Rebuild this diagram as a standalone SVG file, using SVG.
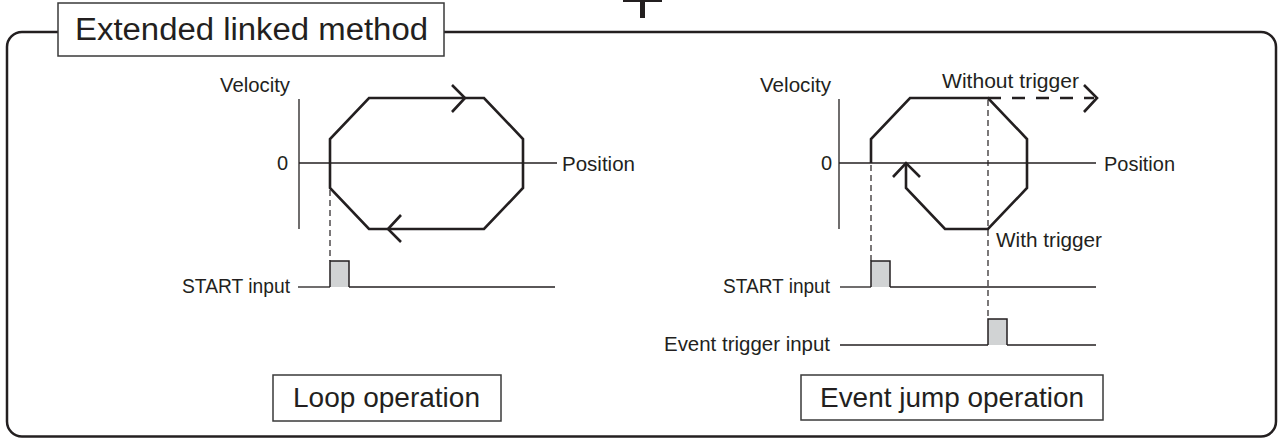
<svg xmlns="http://www.w3.org/2000/svg" width="1279" height="439" viewBox="0 0 1279 439">
<style>
  text { font-family: "Liberation Sans", Arial, sans-serif; fill: #231f20; }
  .lbl { font-size: 20px; }
  .big { font-size: 28px; }
  .ttl { font-size: 31px; }
  .box { fill: #ffffff; stroke: #3a3a3a; stroke-width: 1.5; }
  .axis { fill: none; stroke: #231f20; stroke-width: 1.3; }
  .prof { fill: none; stroke: #231f20; stroke-width: 2.6; stroke-linejoin: miter; stroke-linecap: butt; }
  .dash { fill: none; stroke: #231f20; stroke-width: 1.2; stroke-dasharray: 6 4; }
  .dashb { fill: none; stroke: #231f20; stroke-width: 2.6; stroke-dasharray: 13 11; }
  .pulse { fill: #d1d3d4; stroke: #231f20; stroke-width: 1.5; }
</style>

<g id="plus-mark">
  <rect x="623" y="0" width="39" height="2" fill="#231f20"/>
  <rect x="640" y="0" width="5" height="18" fill="#231f20"/>
</g>

<g id="frame">
  <rect x="7" y="32" width="1269" height="404.5" rx="15" ry="15" fill="none" stroke="#231f20" stroke-width="2.5"/>
</g>

<g id="title">
  <rect class="box" x="58" y="3" width="386" height="53"/>
  <text class="ttl" x="75" y="40" textLength="353" lengthAdjust="spacingAndGlyphs">Extended linked method</text>
</g>

<g id="loop-chart">
  <text class="lbl" x="220" y="92" textLength="70" lengthAdjust="spacingAndGlyphs">Velocity</text>
  <text class="lbl" x="277" y="170">0</text>
  <text class="lbl" x="562" y="171" textLength="73" lengthAdjust="spacingAndGlyphs">Position</text>
  <text class="lbl" x="182" y="293" textLength="108" lengthAdjust="spacingAndGlyphs">START input</text>
</g>

<g id="loop-label">
  <rect class="box" x="273" y="375" width="228" height="46"/>
  <text class="big" x="293" y="407" textLength="187" lengthAdjust="spacingAndGlyphs">Loop operation</text>
</g>

<g id="jump-chart">
  <text class="lbl" x="760" y="92" textLength="71" lengthAdjust="spacingAndGlyphs">Velocity</text>
  <text class="lbl" x="942" y="88" textLength="137" lengthAdjust="spacingAndGlyphs">Without trigger</text>
  <text class="lbl" x="821" y="170">0</text>
  <text class="lbl" x="1104" y="171" textLength="71" lengthAdjust="spacingAndGlyphs">Position</text>
  <text class="lbl" x="996" y="247" textLength="106" lengthAdjust="spacingAndGlyphs">With trigger</text>
  <text class="lbl" x="723" y="293" textLength="107" lengthAdjust="spacingAndGlyphs">START input</text>
  <text class="lbl" x="664" y="351" textLength="166" lengthAdjust="spacingAndGlyphs">Event trigger input</text>
</g>

<g id="jump-label">
  <rect class="box" x="801" y="375" width="302" height="45"/>
  <text class="big" x="820" y="407" textLength="264" lengthAdjust="spacingAndGlyphs">Event jump operation</text>
</g>

<g id="connectors">
  <!-- left chart -->
  <line class="axis" x1="299" y1="99" x2="299" y2="229"/>
  <line class="axis" x1="299" y1="163" x2="557" y2="163"/>
  <polygon class="prof" points="369,98 484,98 523,139 523,188 484,229 369,229 330,188 330,139"/>
  <polyline class="prof" points="452,85 465,98 452,112"/>
  <polyline class="prof" points="401,215 388,229 401,242"/>
  <line class="dash" x1="330" y1="190" x2="330" y2="261"/>
  <path class="pulse" d="M330,287 V261 H349 V287"/>
  <line class="axis" x1="298" y1="287" x2="330" y2="287"/>
  <line class="axis" x1="349" y1="287" x2="555" y2="287"/>

  <!-- right chart -->
  <line class="axis" x1="839" y1="99" x2="839" y2="229"/>
  <line class="axis" x1="839" y1="163" x2="1096" y2="163"/>
  <polyline class="prof" points="871,163 871,139 910,98 988,98 1027,139 1027,188 988,229 945,229 906,188 906,163"/>
  <polyline class="prof" points="893,177 906,163 920,177"/>
  <line class="dashb" x1="988" y1="98" x2="1094" y2="98"/>
  <polyline class="prof" points="1084,85 1097,98 1084,112"/>
  <line class="dash" x1="871" y1="165" x2="871" y2="261"/>
  <line class="dash" x1="988" y1="100" x2="988" y2="319"/>
  <path class="pulse" d="M871,287 V261 H890 V287"/>
  <line class="axis" x1="840" y1="287" x2="871" y2="287"/>
  <line class="axis" x1="890" y1="287" x2="1096" y2="287"/>
  <path class="pulse" d="M988,345 V319 H1007 V345"/>
  <line class="axis" x1="840" y1="345" x2="988" y2="345"/>
  <line class="axis" x1="1007" y1="345" x2="1096" y2="345"/>
</g>
</svg>
